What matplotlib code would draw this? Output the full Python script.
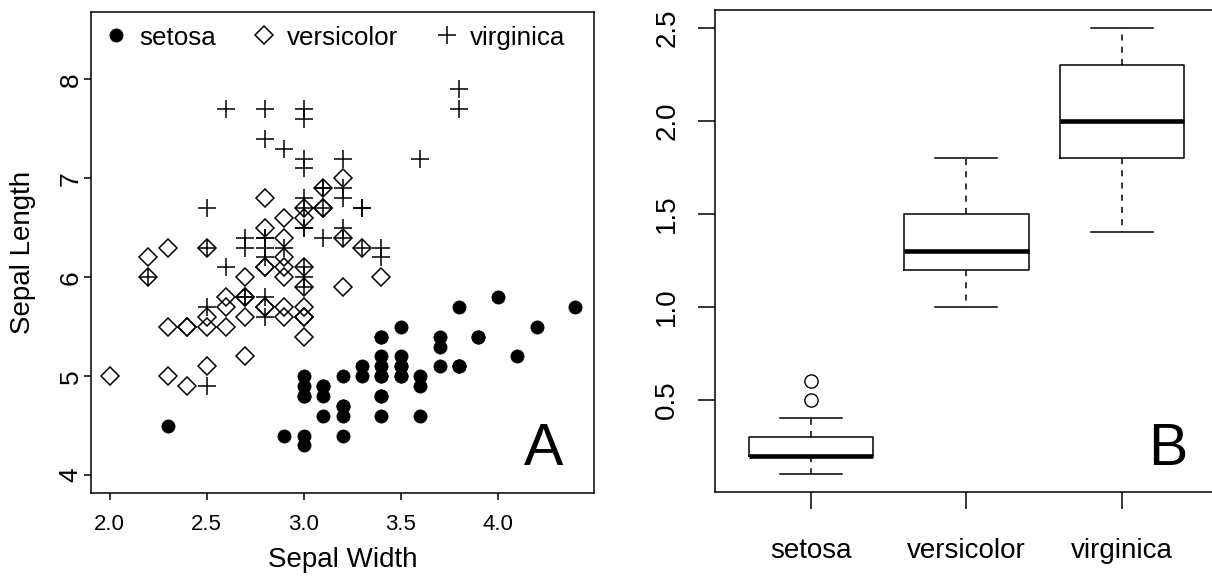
import matplotlib
matplotlib.use("Agg")
import matplotlib.pyplot as plt

plt.rcParams['font.family'] = ['Liberation Sans', 'DejaVu Sans']

species = ['setosa', 'versicolor', 'virginica']

# iris: Sepal.Length / Sepal.Width / Petal.Width by species
setosa_sl = [5.1, 4.9, 4.7, 4.6, 5.0, 5.4, 4.6, 5.0, 4.4, 4.9, 5.4, 4.8, 4.8, 4.3, 5.8, 5.7, 5.4,
             5.1, 5.7, 5.1, 5.4, 5.1, 4.6, 5.1, 4.8, 5.0, 5.0, 5.2, 5.2, 4.7, 4.8, 5.4, 5.2, 5.5,
             4.9, 5.0, 5.5, 4.9, 4.4, 5.1, 5.0, 4.5, 4.4, 5.0, 5.1, 4.8, 5.1, 4.6, 5.3, 5.0]
setosa_sw = [3.5, 3.0, 3.2, 3.1, 3.6, 3.9, 3.4, 3.4, 2.9, 3.1, 3.7, 3.4, 3.0, 3.0, 4.0, 4.4, 3.9,
             3.5, 3.8, 3.8, 3.4, 3.7, 3.6, 3.3, 3.4, 3.0, 3.4, 3.5, 3.4, 3.2, 3.1, 3.4, 4.1, 4.2,
             3.1, 3.2, 3.5, 3.6, 3.0, 3.4, 3.5, 2.3, 3.2, 3.5, 3.8, 3.0, 3.8, 3.2, 3.7, 3.3]
versicolor_sl = [7.0, 6.4, 6.9, 5.5, 6.5, 5.7, 6.3, 4.9, 6.6, 5.2, 5.0, 5.9, 6.0, 6.1, 5.6, 6.7, 5.6,
                 5.8, 6.2, 5.6, 5.9, 6.1, 6.3, 6.1, 6.4, 6.6, 6.8, 6.7, 6.0, 5.7, 5.5, 5.5, 5.8, 6.0,
                 5.4, 6.0, 6.7, 6.3, 5.6, 5.5, 5.5, 6.1, 5.8, 5.0, 5.6, 5.7, 5.7, 6.2, 5.1, 5.7]
versicolor_sw = [3.2, 3.2, 3.1, 2.3, 2.8, 2.8, 3.3, 2.4, 2.9, 2.7, 2.0, 3.0, 2.2, 2.9, 2.9, 3.1, 3.0,
                 2.7, 2.2, 2.5, 3.2, 2.8, 2.5, 2.8, 2.9, 3.0, 2.8, 3.0, 2.9, 2.6, 2.4, 2.4, 2.7, 2.7,
                 3.0, 3.4, 3.1, 2.3, 3.0, 2.5, 2.6, 3.0, 2.6, 2.3, 2.7, 3.0, 2.9, 2.9, 2.5, 2.8]
virginica_sl = [6.3, 5.8, 7.1, 6.3, 6.5, 7.6, 4.9, 7.3, 6.7, 7.2, 6.5, 6.4, 6.8, 5.7, 5.8, 6.4, 6.5,
                7.7, 7.7, 6.0, 6.9, 5.6, 7.7, 6.3, 6.7, 7.2, 6.2, 6.1, 6.4, 7.2, 7.4, 7.9, 6.4, 6.3,
                6.1, 7.7, 6.3, 6.4, 6.0, 6.9, 6.7, 6.9, 5.8, 6.8, 6.7, 6.7, 6.3, 6.5, 6.2, 5.9]
virginica_sw = [3.3, 2.7, 3.0, 2.9, 3.0, 3.0, 2.5, 2.9, 2.5, 3.6, 3.2, 2.7, 3.0, 2.5, 2.8, 3.2, 3.0,
                3.8, 2.6, 2.2, 3.2, 2.8, 2.8, 2.7, 3.3, 3.2, 2.8, 3.0, 2.8, 3.0, 2.8, 3.8, 2.8, 2.8,
                2.6, 3.0, 3.4, 3.1, 3.0, 3.1, 3.1, 3.1, 2.7, 3.2, 3.3, 3.0, 2.5, 3.0, 3.4, 3.0]

setosa_pw = [0.2, 0.2, 0.2, 0.2, 0.2, 0.4, 0.3, 0.2, 0.2, 0.1, 0.2, 0.2, 0.1, 0.1, 0.2, 0.4, 0.4,
             0.3, 0.3, 0.3, 0.2, 0.4, 0.2, 0.5, 0.2, 0.2, 0.4, 0.2, 0.2, 0.2, 0.2, 0.4, 0.1, 0.2,
             0.2, 0.2, 0.2, 0.1, 0.2, 0.2, 0.3, 0.3, 0.2, 0.6, 0.4, 0.3, 0.2, 0.2, 0.2, 0.2]
versicolor_pw = [1.4, 1.5, 1.5, 1.3, 1.5, 1.3, 1.6, 1.0, 1.3, 1.4, 1.0, 1.5, 1.0, 1.4, 1.3, 1.4, 1.5,
                 1.0, 1.5, 1.1, 1.8, 1.3, 1.5, 1.2, 1.3, 1.4, 1.4, 1.7, 1.5, 1.0, 1.1, 1.0, 1.2, 1.6,
                 1.5, 1.6, 1.5, 1.3, 1.3, 1.3, 1.2, 1.4, 1.2, 1.0, 1.3, 1.2, 1.3, 1.3, 1.1, 1.3]
virginica_pw = [2.5, 1.9, 2.1, 1.8, 2.2, 2.1, 1.7, 1.8, 1.8, 2.5, 2.0, 1.9, 2.1, 2.0, 2.4, 2.3, 1.8,
                2.2, 2.3, 1.5, 2.3, 2.0, 2.0, 1.8, 2.1, 1.8, 1.8, 1.8, 2.1, 1.6, 1.9, 2.0, 2.2, 1.5,
                1.4, 2.3, 2.4, 1.8, 1.8, 2.1, 2.4, 2.3, 1.9, 2.3, 2.5, 2.3, 1.9, 2.0, 2.3, 1.8]

x_ticks = [2.0, 2.5, 3.0, 3.5, 4.0]
y_ticks = [4, 5, 6, 7, 8]
pw_ticks = [0.5, 1.0, 1.5, 2.0, 2.5]

LW = 1.1

fig = plt.figure(figsize=(12.12, 5.76), dpi=100)

# ---- panel A: scatter
ax1 = fig.add_axes([0.0751, 0.1441, 0.415, 0.835])
ax1.plot(setosa_sw, setosa_sl, ls='none', marker='o', ms=9.5, mfc='black', mec='black',
         mew=0.5, label='setosa')
ax1.plot(versicolor_sw, versicolor_sl, ls='none', marker='D', ms=8.9, mfc='none', mec='black',
         mew=LW, label='versicolor')
ax1.plot(virginica_sw, virginica_sl, ls='none', marker='+', ms=12.8, mec='black',
         mew=LW, label='virginica')
ax1.set_xlim(1.904, 4.496)
ax1.set_ylim(3.82, 8.68)
ax1.set_xticks(x_ticks)
ax1.set_xticklabels(['%.1f' % v for v in x_ticks])
ax1.set_yticks(y_ticks)
ax1.set_yticklabels([str(v) for v in y_ticks])
ax1.tick_params(axis='x', length=5, width=LW, labelsize=16, pad=10)
ax1.tick_params(axis='y', length=5, width=LW, labelsize=19, pad=1)
plt.setp(ax1.get_yticklabels(), rotation=90, va='center')
for s in ax1.spines.values():
    s.set_linewidth(LW)
ax1.set_xlabel('Sepal Width', fontsize=20, labelpad=9)
ax1.set_ylabel('Sepal Length', fontsize=20, labelpad=16)
ax1.legend(loc='upper left', bbox_to_anchor=(0.037, 0.972), ncol=3, frameon=False,
           fontsize=18.7, borderpad=0, borderaxespad=0, handlelength=0.5,
           handletextpad=0.63, columnspacing=1.62)
ax1.text(0.9006, 0.058, 'A', transform=ax1.transAxes, ha='center', va='baseline', fontsize=42.5)

# ---- panel B: boxplot
ax2 = fig.add_axes([0.5899, 0.1458, 0.415, 0.8368])
ax2.boxplot([setosa_pw, versicolor_pw, virginica_pw], positions=[1, 2, 3], widths=0.8,
            tick_labels=species,
            boxprops=dict(color='black', lw=LW),
            medianprops=dict(color='black', lw=3.3, solid_capstyle='butt'),
            whiskerprops=dict(color='black', lw=LW, ls=(0, (4, 4))),
            capprops=dict(color='black', lw=LW),
            flierprops=dict(marker='o', mfc='none', mec='black', ms=9.5, mew=1.0))
ax2.set_xlim(0.38, 3.62)
ax2.set_ylim(0.004, 2.596)
ax2.set_yticks(pw_ticks)
ax2.set_yticklabels(['%.1f' % v for v in pw_ticks])
ax2.tick_params(axis='both', length=12, width=LW, labelsize=20)
ax2.tick_params(axis='x', pad=21)
ax2.tick_params(axis='y', pad=13)
plt.setp(ax2.get_yticklabels(), rotation=90, va='center')
for s in ax2.spines.values():
    s.set_linewidth(LW)
ax2.text(0.9006, 0.056, 'B', transform=ax2.transAxes, ha='center', va='baseline', fontsize=42.5)

fig.savefig('out.png', dpi=100)
